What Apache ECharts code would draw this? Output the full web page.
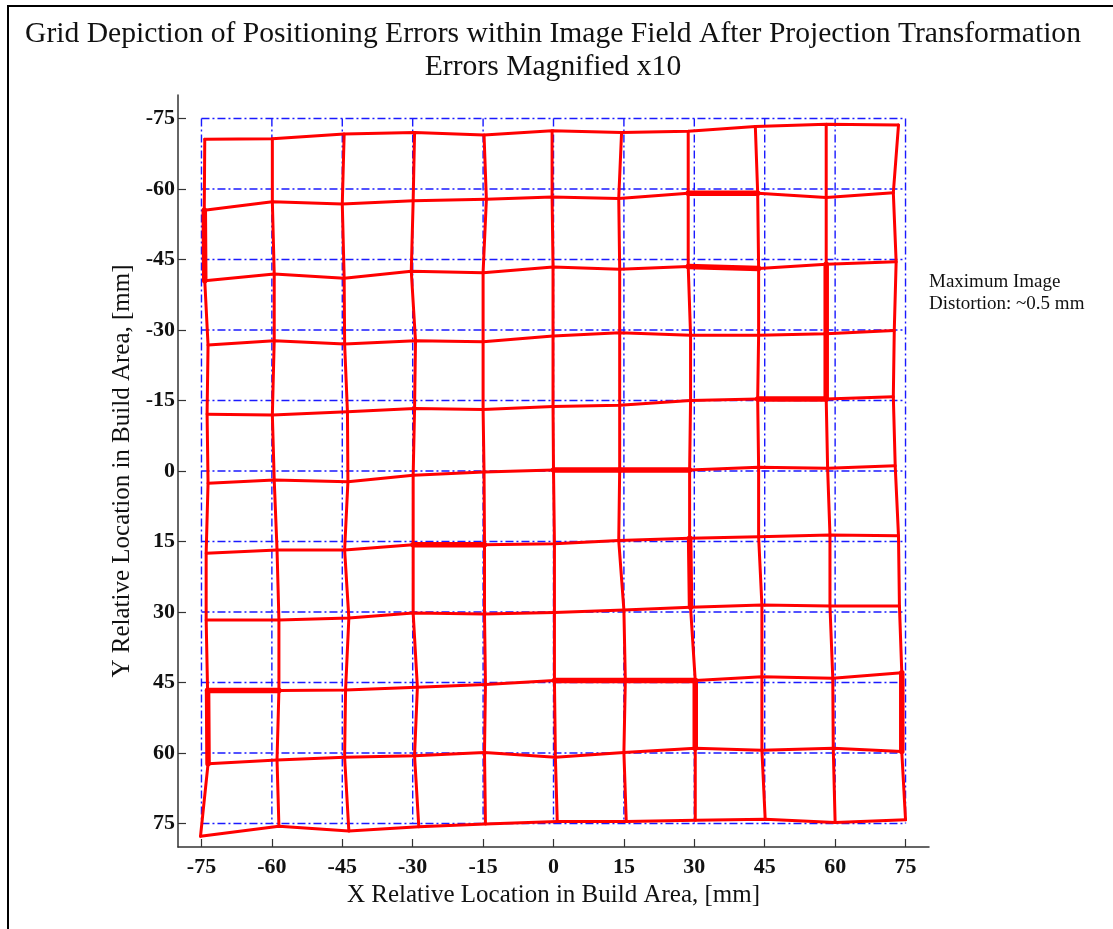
<!DOCTYPE html>
<html>
<head>
<meta charset="utf-8">
<script src="https://cdn.jsdelivr.net/npm/echarts@6.0.0/dist/echarts.min.js"></script>
<style>
html,body{margin:0;padding:0;background:#fff;}
#chart{width:1113px;height:929px;}
</style>
</head>
<body>
<div id="chart"></div>
<script>
// Nominal grid / tick positions (mm)
const xTicks = [-75, -60, -45, -30, -15, 0, 15, 30, 45, 60, 75];
const yTicks = [-75, -60, -45, -30, -15, 0, 15, 30, 45, 60, 75];

// Distorted node positions (errors magnified x10), rows = nominal Y, cols = nominal X
const nodeX = [
  [-74.3, -59.9, -44.6, -29.6, -14.8, -0.3, 14.5, 28.7, 43.0, 58.1, 73.5],
  [-74.4, -59.9, -45.0, -29.9, -14.3, -0.3, 13.9, 28.7, 43.5, 58.1, 72.4],
  [-74.3, -59.5, -44.6, -30.3, -15.0, -0.1, 14.1, 28.7, 43.7, 58.1, 73.0],
  [-73.6, -59.5, -44.5, -29.4, -15.0, -0.1, 14.1, 29.2, 43.7, 58.1, 72.6],
  [-73.8, -59.9, -43.9, -29.6, -15.0, -0.1, 14.1, 29.2, 43.5, 58.1, 72.4],
  [-73.6, -59.5, -43.8, -29.9, -14.8, 0.0, 14.1, 29.0, 43.7, 58.4, 72.8],
  [-74.0, -58.9, -44.5, -29.9, -14.7, 0.2, 13.9, 29.0, 43.7, 58.9, 73.5],
  [-74.0, -58.5, -43.6, -29.9, -14.7, 0.2, 15.0, 29.2, 44.4, 58.9, 73.7],
  [-73.7, -58.5, -44.3, -29.0, -14.5, 0.2, 15.3, 30.2, 44.4, 59.5, 74.2],
  [-73.6, -58.9, -44.5, -29.6, -14.7, 0.4, 15.0, 30.2, 44.4, 59.6, 74.2],
  [-75.2, -58.5, -43.6, -28.7, -14.5, 0.8, 15.5, 30.2, 45.1, 60.0, 75.0]
];
const nodeY = [
  [-70.6, -70.7, -71.7, -72.0, -71.5, -72.4, -72.0, -72.3, -73.3, -73.8, -73.6],
  [-55.5, -57.3, -56.8, -57.5, -57.8, -58.3, -58.0, -59.1, -59.1, -58.2, -59.2],
  [-40.5, -41.9, -41.0, -42.5, -42.2, -43.4, -42.9, -43.5, -43.1, -44.0, -44.5],
  [-26.8, -27.7, -27.0, -27.7, -27.5, -28.7, -29.4, -28.9, -28.9, -29.2, -29.9],
  [-12.1, -11.9, -12.6, -13.3, -13.1, -13.7, -14.0, -15.0, -15.3, -15.3, -15.8],
  [2.6, 1.9, 2.3, 0.9, 0.2, -0.2, -0.2, -0.2, -0.8, -0.6, -1.1],
  [17.5, 16.8, 16.8, 15.7, 15.7, 15.5, 14.8, 14.3, 14.0, 13.6, 13.8],
  [31.7, 31.7, 31.3, 30.2, 30.4, 30.1, 29.6, 29.0, 28.5, 28.7, 28.7],
  [46.7, 46.7, 46.6, 46.0, 45.4, 44.6, 44.6, 44.6, 43.8, 44.1, 42.9],
  [62.3, 61.5, 60.9, 60.6, 59.9, 60.9, 59.9, 59.0, 59.4, 59.0, 59.7],
  [77.7, 75.6, 76.6, 75.7, 75.1, 74.6, 74.6, 74.3, 74.1, 74.8, 74.2]
];

// Segments drawn heavier in the original (pairs of [row, col] node indices)
const heavySegments = [
  [[1, 0], [2, 0]], [[1, 7], [1, 8]], [[2, 7], [2, 8]], [[2, 9], [3, 9]],
  [[3, 9], [4, 9]], [[4, 8], [4, 9]], [[5, 5], [5, 6]], [[5, 6], [5, 7]],
  [[6, 3], [6, 4]], [[6, 7], [7, 7]], [[8, 5], [8, 6]], [[8, 6], [8, 7]],
  [[8, 7], [9, 7]], [[8, 10], [9, 10]], [[8, 0], [9, 0]], [[8, 0], [8, 1]]
];

const titleLines = ['Grid Depiction of Positioning Errors within Image Field After Projection Transformation', 'Errors Magnified x10'];
const noteText = 'Maximum Image\nDistortion: ~0.5 mm';

const SERIF = "'Liberation Serif', 'Times New Roman', serif";
const series = [];
function lineSeries(data, color, width, dash) {
  return {
    type: 'line', symbol: 'none', silent: true, animation: false, clip: false,
    color: color,
    itemStyle: { color: color },
    data: data,
    lineStyle: { color: color, width: width, type: dash || 'solid', join: 'round', cap: dash ? 'butt' : 'round' }
  };
}

// blue nominal grid (dash-dot)
xTicks.forEach(t => series.push(lineSeries([[t, yTicks[0]], [t, yTicks[yTicks.length - 1]]], '#1a1aff', 1.4, [8, 3, 2, 3])));
yTicks.forEach(t => series.push(lineSeries([[xTicks[0], t], [xTicks[xTicks.length - 1], t]], '#1a1aff', 1.4, [8, 3, 2, 3])));

// red distorted grid
for (let r = 0; r < nodeX.length; r++) {
  series.push(lineSeries(nodeX[r].map((x, c) => [x, nodeY[r][c]]), '#ff0000', 3));
}
for (let c = 0; c < nodeX[0].length; c++) {
  series.push(lineSeries(nodeX.map((row, r) => [row[c], nodeY[r][c]]), '#ff0000', 3));
}
heavySegments.forEach(seg => {
  series.push(lineSeries(seg.map(([r, c]) => [nodeX[r][c], nodeY[r][c]]), '#ff0000', 5.5));
});

function makeAxis(ticks, extra) {
  return Object.assign({
    type: 'value', min: -80, max: 80,
    axisLine: { show: true, onZero: false, lineStyle: { color: '#333', width: 1.5 } },
    axisTick: { show: true, inside: true, length: 8, customValues: ticks, lineStyle: { color: '#333', width: 1.2 } },
    splitLine: { show: false },
    nameLocation: 'middle',
    nameTextStyle: { fontFamily: SERIF, fontSize: 25, color: '#111' }
  }, extra);
}

const chart = echarts.init(document.getElementById('chart'), null, { renderer: 'canvas' });
chart.setOption({
  backgroundColor: '#ffffff',
  animation: false,
  grid: { left: 178, right: 184, top: 95, bottom: 82, containLabel: false },
  xAxis: makeAxis(xTicks, {
    position: 'bottom',
    name: 'X Relative Location in Build Area, [mm]',
    nameGap: 32,
    axisLabel: { customValues: xTicks, margin: 9, fontFamily: SERIF, fontWeight: 'bold', fontSize: 22, color: '#111' }
  }),
  yAxis: makeAxis(yTicks, {
    inverse: true,
    position: 'left',
    name: 'Y Relative Location in Build Area, [mm]',
    nameGap: 41,
    axisLabel: { customValues: yTicks, margin: 3, fontFamily: SERIF, fontWeight: 'bold', fontSize: 22, color: '#111' }
  }),
  graphic: [
    { type: 'rect', silent: true, shape: { x: 8, y: 6, width: 1300, height: 1100 }, style: { fill: null, stroke: '#000', lineWidth: 2 } },
    { type: 'text', silent: true, style: { text: titleLines[0], x: 553, y: 19, textAlign: 'center', textVerticalAlign: 'top', font: "29.6px 'Liberation Serif', serif", fill: '#111' } },
    { type: 'text', silent: true, style: { text: titleLines[1], x: 553, y: 52, textAlign: 'center', textVerticalAlign: 'top', font: "29.6px 'Liberation Serif', serif", fill: '#111' } },
    { type: 'text', silent: true, style: { text: noteText, x: 929, y: 271, textAlign: 'left', textVerticalAlign: 'top', font: "19px 'Liberation Serif', serif", lineHeight: 22, fill: '#111' } }
  ],
  series: series
});
</script>
</body>
</html>
